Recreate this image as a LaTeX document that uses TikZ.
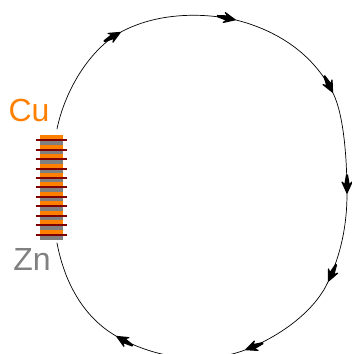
\documentclass[tikz,border=0pt]{standalone}
\usepackage{fontspec}
\setmainfont{Liberation Sans}
\definecolor{cuor}{RGB}{255,128,0}
\definecolor{zngr}{RGB}{128,128,128}
\definecolor{wire}{RGB}{128,0,0}
\tikzset{
  wirebar/.style={line width=1.6pt,color=wire},
  flow/.style={line width=0.7pt,line cap=round},
  lab/.style={font=\fontsize{32}{32}\selectfont,inner sep=0pt,anchor=base},
  head/.pic={
    \filldraw[line width=1.2pt,line join=round] (-1,0) -- (-12,5) -- (-9,2.2) -- (-19,0.5) -- (-19,-0.5) -- (-9,-2.2) -- (-12,-5) -- cycle;
  }
}
\begin{document}
\begin{tikzpicture}[x=1pt,y=-1pt]
\useasboundingbox (0,0) rectangle (352,354);
\clip (0,0) rectangle (352,354);
\fill[zngr] (40,135) rectangle (63,240);
\foreach \y in {139.7,149.7,158.7,168.7,177.7,186.7,196.7,205.7,216,225,235}{
  \fill[cuor] (40,\y-5) rectangle (63,\y);
  \draw[wirebar] (36,\y) -- (67,\y);
}
\node[lab,text=cuor] (cu) at (29,121) {Cu};
\node[lab,text=zngr] (zn) at (32,270) {Zn};
\draw[flow] (57,129) .. controls (65,90) and (90,49) .. (121,32)
  .. controls (156,13) and (201,12) .. (236,20)
  .. controls (276,30) and (313,53) .. (333,93)
  .. controls (344,115) and (347,160) .. (347,194)
  .. controls (347,225) and (341,254) .. (328,282)
  .. controls (315,310) and (283,335) .. (245,350)
  .. controls (205,365) and (156,359) .. (116,336)
  .. controls (85,318) and (65,285) .. (57,243);
\pic[rotate=29] at (121,32) {head};
\pic[rotate=-12] at (236,20) {head};
\pic[rotate=-63] at (333,93) {head};
\pic[rotate=-90] at (347,194) {head};
\pic[rotate=-115] at (328,282) {head};
\pic[rotate=-159] at (245,350) {head};
\pic[rotate=150] at (116,336) {head};
\end{tikzpicture}
\end{document}
